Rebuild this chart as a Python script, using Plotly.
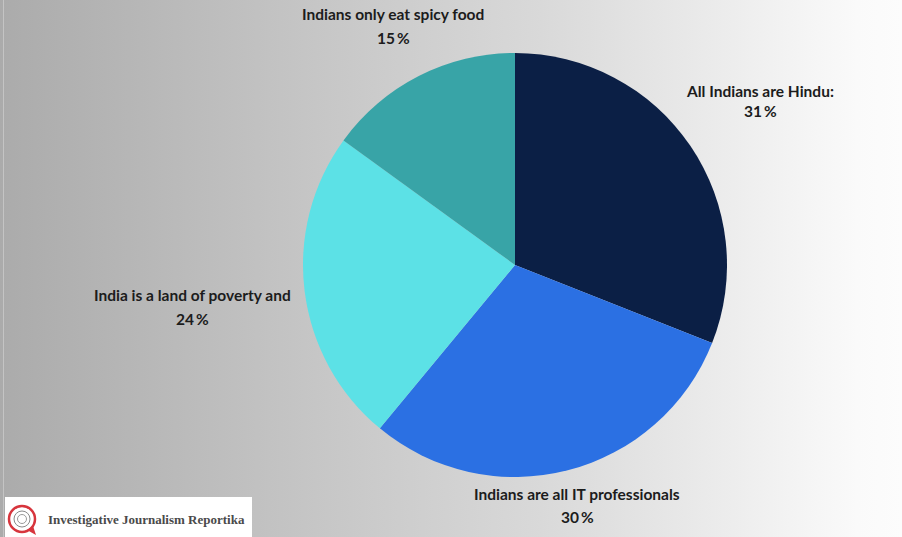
import base64
import plotly.graph_objects as go

# Survey: common stereotypes about India
labels = [
    "All Indians are Hindu:",
    "Indians are all IT professionals",
    "India is a land of poverty and",
    "Indians only eat spicy food",
]
values = [31, 30, 24, 15]
colors = ["#0b1f45", "#2b70e3", "#5ce1e6", "#38a4a7"]

W, H = 902, 537

# Outside label placement in pixels: (centre x, caption y, percent y)
label_pos = [
    (760, 91, 111),
    (577, 494, 517),
    (192, 295, 319),
    (393, 14, 38),
]


def px_x(v):
    return v / W


def px_y(v):
    return (H - v) / H


fig = go.Figure(
    go.Pie(
        labels=labels,
        values=values,
        marker=dict(colors=colors, line=dict(width=0)),
        sort=False,
        direction="clockwise",
        rotation=0,
        textinfo="none",
        hoverinfo="label+percent",
        domain=dict(x=[303 / W, 727 / W], y=[(H - 477) / H, (H - 53) / H]),
        showlegend=False,
    )
)

label_font = dict(family="Lato", size=15.5, color="#1c1c1c", weight="bold")
total = sum(values)
annotations = []
for lab, val, (cx, ly, py) in zip(labels, values, label_pos):
    pct = round(100 * val / total)
    annotations.append(dict(
        x=px_x(cx), y=px_y(ly), xref="paper", yref="paper", text=lab,
        showarrow=False, xanchor="center", yanchor="middle", font=label_font,
    ))
    annotations.append(dict(
        x=px_x(cx), y=px_y(py), xref="paper", yref="paper", text=f"{pct} %".replace(" ", "\u2009"),
        showarrow=False, xanchor="center", yanchor="middle", font=label_font,
    ))

# Publisher badge text
annotations.append(dict(
    x=px_x(46), y=px_y(519), xref="paper", yref="paper",
    text="Investigative Journalism Reportika",
    showarrow=False, xanchor="left", yanchor="middle",
    font=dict(family="Liberation Serif", size=13, color="#4a4a4a", weight="bold"),
))

# Horizontal grey-to-white backdrop
svg = (
    f"<svg xmlns='http://www.w3.org/2000/svg' width='{W}' height='{H}' preserveAspectRatio='none'>"
    "<defs><linearGradient id='g' x1='0' x2='1' y1='0' y2='0'>"
    "<stop offset='0' stop-color='#ababab'/>"
    "<stop offset='0.35' stop-color='#c6c6c6'/>"
    "<stop offset='0.6' stop-color='#d9d9d9'/>"
    "<stop offset='0.95' stop-color='#fafafa'/>"
    "<stop offset='1' stop-color='#fcfcfc'/>"
    "</linearGradient></defs>"
    f"<rect width='{W}' height='{H}' fill='url(#g)'/>"
    "</svg>"
)
bg_src = "data:image/svg+xml;base64," + base64.b64encode(svg.encode()).decode()

shapes = [
    # thin light edge line on the left
    dict(type="line", xref="paper", yref="paper", x0=px_x(3.5), x1=px_x(3.5), y0=0, y1=1,
         line=dict(color="#c4c4c4", width=1)),
    # badge box
    dict(type="rect", xref="paper", yref="paper", x0=px_x(5), x1=px_x(252), y0=px_y(537), y1=px_y(497),
         fillcolor="white", line=dict(width=0)),
    # badge icon: red ring with speech tail
    dict(type="circle", xref="paper", yref="paper",
         x0=px_x(9), x1=px_x(35), y0=px_y(532), y1=px_y(506),
         line=dict(color="#d7353d", width=2.5), fillcolor="rgba(0,0,0,0)"),
    dict(type="path", xref="paper", yref="paper",
         path=f"M {px_x(27)},{px_y(530)} L {px_x(36)},{px_y(535)} L {px_x(33)},{px_y(526)} Z",
         fillcolor="#d7353d", line=dict(width=0)),
    dict(type="circle", xref="paper", yref="paper",
         x0=px_x(14), x1=px_x(30), y0=px_y(527), y1=px_y(511),
         line=dict(color="#8a8a8a", width=1), fillcolor="rgba(0,0,0,0)"),
    dict(type="circle", xref="paper", yref="paper",
         x0=px_x(17.5), x1=px_x(26.5), y0=px_y(523.5), y1=px_y(514.5),
         line=dict(color="#9a9a9a", width=1), fillcolor="rgba(0,0,0,0)"),
]

fig.update_layout(
    width=W, height=H,
    margin=dict(l=0, r=0, t=0, b=0),
    paper_bgcolor="#d0d0d0",
    plot_bgcolor="rgba(0,0,0,0)",
    images=[dict(source=bg_src, xref="paper", yref="paper", x=0, y=1, sizex=1, sizey=1,
                 xanchor="left", yanchor="top", sizing="stretch", layer="below")],
    annotations=annotations,
    shapes=shapes,
)

fig.write_html("out.html")
